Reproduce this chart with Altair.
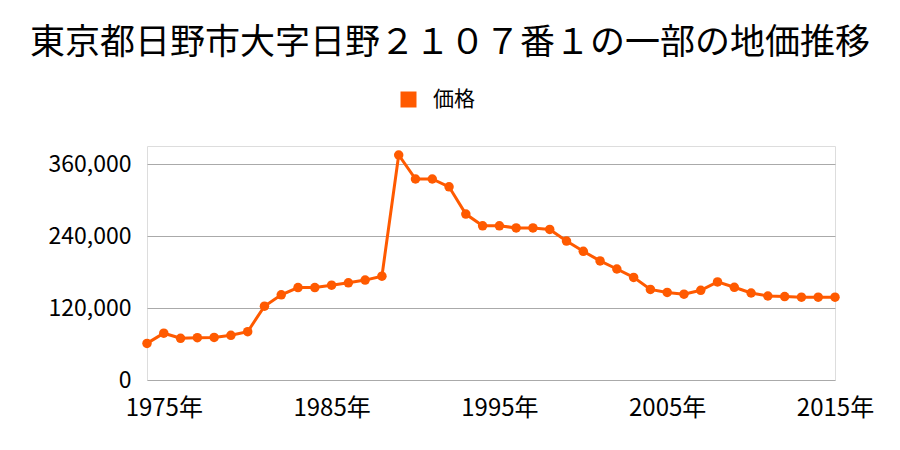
import altair as alt
import pandas as pd

years = list(range(1974, 2016))
prices = [61000, 78000, 69500, 70500, 71000, 74500, 80500, 123000, 142000, 154000,
          154000, 158000, 162000, 166500, 173000, 375000, 335000, 335000, 322000, 276500,
          257000, 257000, 253500, 253500, 251000, 231500, 214500, 198500, 185000, 171000,
          151000, 146000, 143000, 149500, 163500, 154500, 145000, 140000, 139000, 138000,
          138000, 138000]
series = ["価格"] * len(years)

df = pd.DataFrame({"year": years, "price": prices, "series": series})

FONT = "Noto Sans CJK JP"
COLOR = "#FF5A00"

x = alt.X("year:Q",
          scale=alt.Scale(domain=[1974, 2015], nice=False, zero=False),
          axis=alt.Axis(values=[1975, 1985, 1995, 2005, 2015], format="d",
                        labelExpr="datum.label + '年'", title=None, grid=False,
                        domain=False, ticks=False, labelPadding=16,
                        labelFontSize=24, labelFont=FONT, labelColor="#000000",
                        labelFlush=False))
y = alt.Y("price:Q",
          scale=alt.Scale(domain=[0, 390000], nice=False),
          axis=alt.Axis(values=[0, 120000, 240000, 360000], format=",d", title=None,
                        domain=False, ticks=False, labelPadding=16,
                        labelFontSize=23, labelFont=FONT, labelColor="#000000",
                        gridColor="#AAAAAA", gridWidth=1))
color = alt.Color("series:N",
                  scale=alt.Scale(domain=["価格"], range=[COLOR]),
                  legend=alt.Legend(orient="none", legendX=251, legendY=-57,
                                    title=None, symbolType="square",
                                    symbolSize=256, symbolStrokeWidth=0,
                                    labelOffset=14,
                                    labelFontSize=21, labelFont=FONT, labelColor="#000000"))

line = alt.Chart(df).mark_line(strokeWidth=3).encode(x=x, y=y, color=color)
pts = alt.Chart(df).mark_circle(size=90, opacity=1).encode(x=x, y=y, color=color)

chart = (line + pts).properties(
    width=688, height=234,
    title=alt.TitleParams("東京都日野市大字日野２１０７番１の一部の地価推移",
                          font=FONT, fontSize=35, fontWeight="normal", color="#000000",
                          anchor="middle", offset=28, dx=-41),
    autosize=alt.AutoSizeParams(type="none"),
    padding={"left": 147, "top": 146, "right": 65, "bottom": 70},
).configure_view(stroke=None).configure(background="#FFFFFF")

chart.save("out.html", embed_options={"renderer": "svg", "actions": False})
